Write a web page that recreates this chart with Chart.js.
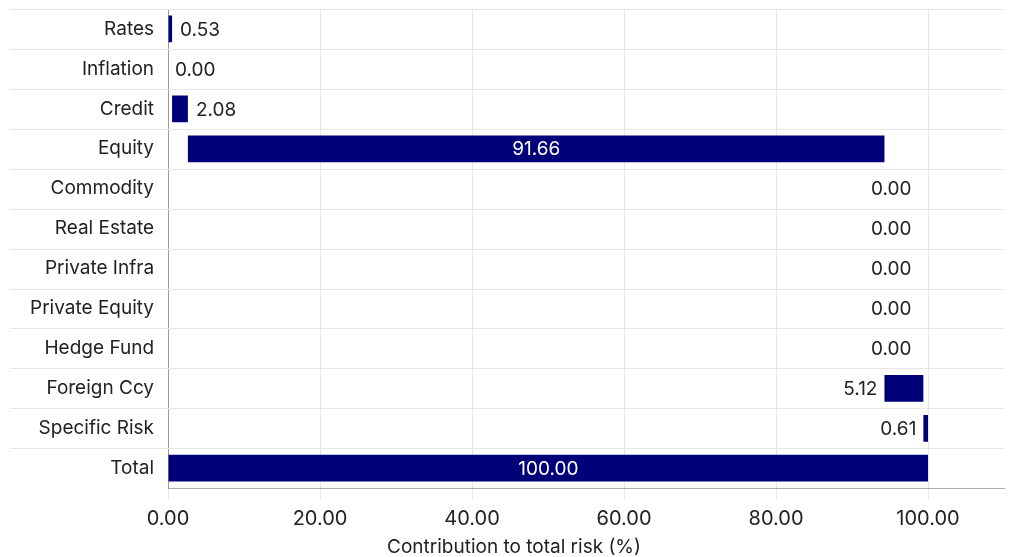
<!DOCTYPE html>
<html><head><meta charset="utf-8">
<script src="https://cdn.jsdelivr.net/npm/chart.js@4.4.0/dist/chart.umd.min.js"></script>
<style>html,body{margin:0;padding:0;background:#fff}#wrap{width:1011px;height:557px}</style>
</head><body><div id="wrap"><canvas id="c"></canvas></div>
<script>
const categories = ["Rates","Inflation","Credit","Equity","Commodity","Real Estate","Private Infra","Private Equity","Hedge Fund","Foreign Ccy","Specific Risk","Total"];
const contributions = [0.53,0.00,2.08,91.66,0.00,0.00,0.00,0.00,0.00,5.12,0.61,100.00];
const xTicks = [0,20,40,60,80,100];
const labelSide = ["right","right","right","inside","left","left","left","left","left","left","left","inside"];

// build floating waterfall ranges
const ranges = [];
let run = 0;
for (let i = 0; i < contributions.length; i++) {
  if (categories[i] === "Total") { ranges.push([0, contributions[i]]); }
  else { ranges.push([run, run + contributions[i]]); run += contributions[i]; }
}
const FONT = "Inter, 'Noto Sans', sans-serif";

const rowLines = {
  id: 'rowLines',
  beforeDatasetsDraw(chart) {
    const {ctx, chartArea, scales} = chart;
    const y = scales.y;
    const step = y.getPixelForValue(1) - y.getPixelForValue(0);
    ctx.save();
    ctx.strokeStyle = '#e6e6e6'; ctx.lineWidth = 1;
    for (let i = 0; i < categories.length; i++) {
      const py = Math.round(y.getPixelForValue(i) - step / 2) + 0.5;
      ctx.beginPath(); ctx.moveTo(10, py); ctx.lineTo(chartArea.right, py); ctx.stroke();
    }
    ctx.restore();
  }
};

const valueLabels = {
  id: 'valueLabels',
  afterDatasetsDraw(chart) {
    const {ctx} = chart;
    const meta = chart.getDatasetMeta(0);
    ctx.save();
    ctx.font = "19px " + FONT;
    ctx.textBaseline = 'middle';
    meta.data.forEach((bar, i) => {
      const txt = contributions[i].toFixed(2);
      const left = Math.min(bar.x, bar.base), right = Math.max(bar.x, bar.base);
      const zero = contributions[i] === 0;
      if (labelSide[i] === 'inside') {
        ctx.fillStyle = '#ffffff'; ctx.textAlign = 'center';
        ctx.fillText(txt, (left + right) / 2, bar.y + 1);
      } else if (labelSide[i] === 'right') {
        ctx.fillStyle = '#222222'; ctx.textAlign = 'left';
        ctx.fillText(txt, right + (zero ? 3 : 8), bar.y + 1);
      } else {
        ctx.fillStyle = '#222222'; ctx.textAlign = 'right';
        ctx.fillText(txt, zero ? left + 27 : left - 7, bar.y + 1);
      }
    });
    ctx.restore();
  }
};

new Chart(document.getElementById('c'), {
  type: 'bar',
  data: { labels: categories, datasets: [{ data: ranges, backgroundColor: '#000078', borderWidth: 0, categoryPercentage: 1, barPercentage: 0.67, borderSkipped: false }] },
  plugins: [rowLines, valueLabels],
  options: {
    indexAxis: 'y', responsive: true, maintainAspectRatio: false, animation: false,
    layout: { padding: { left: 24, right: 7, top: 9, bottom: 0 } },
    plugins: {
      legend: { display: false }, tooltip: { enabled: false },
      title: { display: true, position: 'bottom', text: 'Contribution to total risk (%)', color: '#222', font: { family: FONT, size: 19, weight: 'normal' }, padding: { top: -2, bottom: -2 } }
    },
    scales: {
      x: {
        min: 0, max: 110,
        afterBuildTicks(s) { s.ticks = xTicks.map(v => ({ value: v })); },
        ticks: { callback: v => Number(v).toFixed(2), color: '#222', font: { family: FONT, size: 20 }, padding: 7, maxRotation: 0 },
        grid: { color: '#e6e6e6', tickLength: 12, tickColor: '#e6e6e6' },
        border: { color: '#aaaaaa' }
      },
      y: {
        afterFit(s) { s.paddingTop = 0; s.paddingBottom = 0; },
        ticks: { color: '#222', font: { family: FONT, size: 19 }, padding: 6 },
        grid: { display: false },
        border: { color: '#999999' }
      }
    }
  }
});
</script></body></html>
